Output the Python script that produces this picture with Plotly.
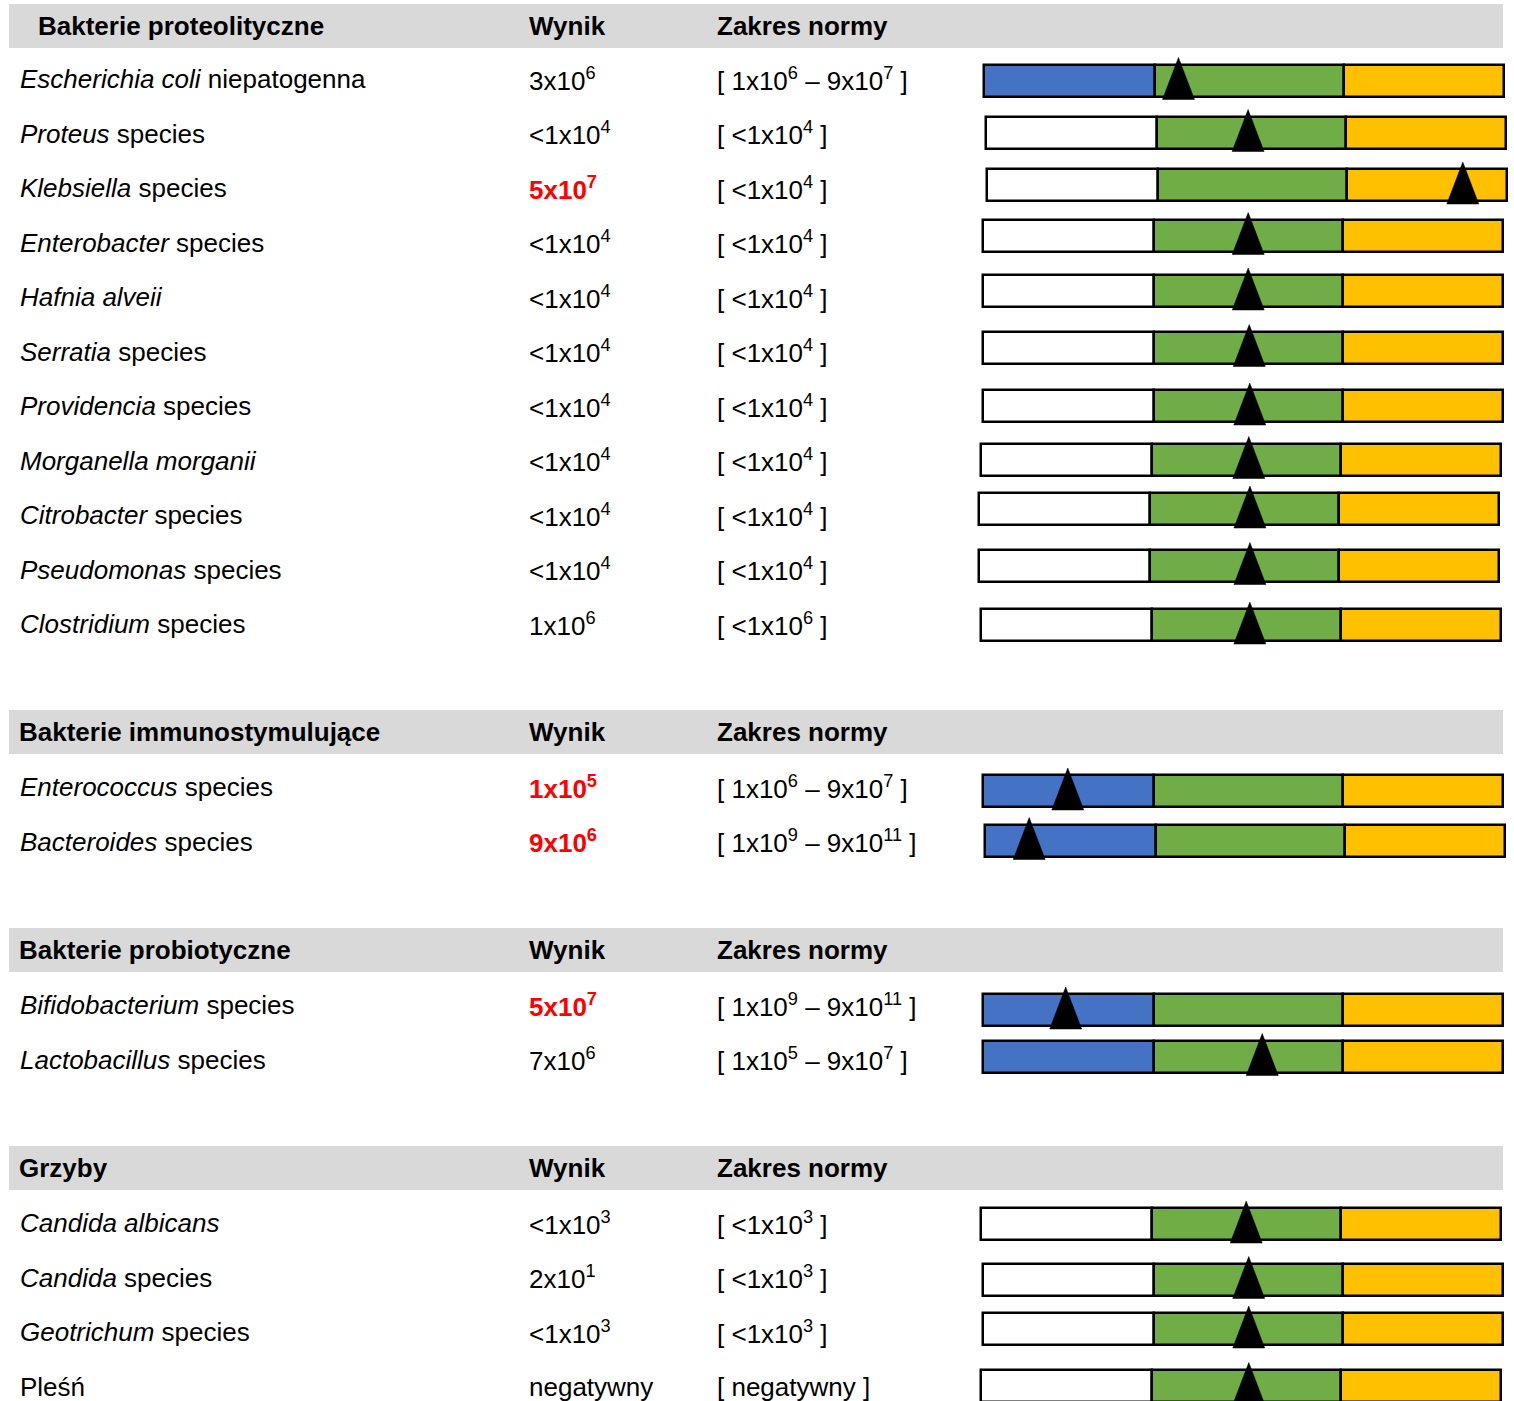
import plotly.graph_objects as go

# ---------------- data ----------------
section_titles = ["Bakterie proteolityczne", "Bakterie immunostymulujące",
                  "Bakterie probiotyczne", "Grzyby"]
section_sizes = [11, 2, 2, 4]
column_titles = ["Wynik", "Zakres normy"]

organisms = [
    "<i>Escherichia coli</i> niepatogenna",
    "<i>Proteus</i> species",
    "<i>Klebsiella</i> species",
    "<i>Enterobacter</i> species",
    "<i>Hafnia alveii</i>",
    "<i>Serratia</i> species",
    "<i>Providencia</i> species",
    "<i>Morganella morganii</i>",
    "<i>Citrobacter</i> species",
    "<i>Pseudomonas</i> species",
    "<i>Clostridium</i> species",
    "<i>Enterococcus</i> species",
    "<i>Bacteroides</i> species",
    "<i>Bifidobacterium</i> species",
    "<i>Lactobacillus</i> species",
    "<i>Candida albicans</i>",
    "<i>Candida</i> species",
    "<i>Geotrichum</i> species",
    "Pleśń",
]
results = [
    "3x10<sup>6</sup>", "<1x10<sup>4</sup>", "5x10<sup>7</sup>", "<1x10<sup>4</sup>",
    "<1x10<sup>4</sup>", "<1x10<sup>4</sup>", "<1x10<sup>4</sup>", "<1x10<sup>4</sup>",
    "<1x10<sup>4</sup>", "<1x10<sup>4</sup>", "1x10<sup>6</sup>",
    "1x10<sup>5</sup>", "9x10<sup>6</sup>",
    "5x10<sup>7</sup>", "7x10<sup>6</sup>",
    "<1x10<sup>3</sup>", "2x10<sup>1</sup>", "<1x10<sup>3</sup>", "negatywny",
]
result_alert = [False, False, True, False, False, False, False, False, False, False, False,
                True, True, True, False, False, False, False, False]
norm_ranges = [
    "[ 1x10<sup>6</sup> – 9x10<sup>7</sup> ]", "[ <1x10<sup>4</sup> ]", "[ <1x10<sup>4</sup> ]",
    "[ <1x10<sup>4</sup> ]", "[ <1x10<sup>4</sup> ]", "[ <1x10<sup>4</sup> ]",
    "[ <1x10<sup>4</sup> ]", "[ <1x10<sup>4</sup> ]", "[ <1x10<sup>4</sup> ]",
    "[ <1x10<sup>4</sup> ]", "[ <1x10<sup>6</sup> ]",
    "[ 1x10<sup>6</sup> – 9x10<sup>7</sup> ]", "[ 1x10<sup>9</sup> – 9x10<sup>11</sup> ]",
    "[ 1x10<sup>9</sup> – 9x10<sup>11</sup> ]", "[ 1x10<sup>5</sup> – 9x10<sup>7</sup> ]",
    "[ <1x10<sup>3</sup> ]", "[ <1x10<sup>3</sup> ]", "[ <1x10<sup>3</sup> ]", "[ negatywny ]",
]
# marker position along the scale (0 = left end, 1 = right end)
marker_pos = [0.374, 0.504, 0.915, 0.510, 0.510, 0.512, 0.513, 0.515, 0.521, 0.521, 0.517,
              0.163, 0.085, 0.159, 0.537, 0.510, 0.511, 0.511, 0.515]
# whether the lowest zone is shown (blue) or left blank (white)
low_zone_shown = [True, False, False, False, False, False, False, False, False, False, False,
                  True, True, True, True, False, False, False, False]
zone_fractions = [0.328, 0.365, 0.307]

# ---------------- layout constants ----------------
W, H = 1514, 1401
header_tops = [4, 710, 928, 1146]
header_h = 44
header_text_x = [36, 17, 17, 17]
first_row_offset = [75, 77, 77, 77]
row_step = 54.5
col_x = [18, 527, 715]
bar_left = [984, 986, 987, 983, 983, 983, 983, 981, 979, 979, 981,
            983, 985, 983, 983, 981, 983, 983, 981]
bar_width = 520
bar_center_dy = [1.5, -1, -3, -7, -6, -4, 0, -1, -6, -4, 1,
                 4, -1, 5, -3, 1, 2, -3, -1]
bar_h = 32
tri_w, tri_up, tri_down = 32, 7, 3
FONT = "Arial, Liberation Sans, Helvetica, sans-serif"
FS = 26
GRAY = "#d9d9d9"
BLUE, GREEN, ORANGE = "#4472c4", "#70ad47", "#ffc000"

fig = go.Figure()
annotations = []
shapes = []

# row centres
row_y = []
for s, n in enumerate(section_sizes):
    for k in range(n):
        row_y.append(header_tops[s] + first_row_offset[s] + k * row_step)

# headers
for s, title in enumerate(section_titles):
    t = header_tops[s]
    shapes.append(dict(type="rect", xref="x", yref="y", x0=9, x1=1503, y0=t, y1=t + header_h,
                       fillcolor=GRAY, line=dict(width=0), layer="below"))
    cy = t + header_h / 2
    for x, txt in zip([header_text_x[s]] + col_x[1:], [title] + column_titles):
        annotations.append(dict(x=x, y=cy, xref="x", yref="y", text=f"<b>{txt}</b>",
                                showarrow=False, xanchor="left", yanchor="middle",
                                font=dict(family=FONT, size=FS, color="black")))

# row texts
for i, y in enumerate(row_y):
    annotations.append(dict(x=col_x[0], y=y, xref="x", yref="y", text=organisms[i],
                            showarrow=False, xanchor="left", yanchor="middle",
                            font=dict(family=FONT, size=FS, color="black")))
    rtxt = f"<b>{results[i]}</b>" if result_alert[i] else results[i]
    annotations.append(dict(x=col_x[1], y=y, xref="x", yref="y", text=rtxt,
                            showarrow=False, xanchor="left", yanchor="middle",
                            font=dict(family=FONT, size=FS,
                                      color="#ff0000" if result_alert[i] else "black")))
    annotations.append(dict(x=col_x[2], y=y, xref="x", yref="y", text=norm_ranges[i],
                            showarrow=False, xanchor="left", yanchor="middle",
                            font=dict(family=FONT, size=FS, color="black")))

# bars (three zones)
bar_y = [row_y[i] + bar_center_dy[i] for i in range(len(row_y))]
zone_colors_low = [BLUE if shown else "white" for shown in low_zone_shown]
cum = 0.0
for z, frac in enumerate(zone_fractions):
    bases = [bar_left[i] + cum * bar_width for i in range(len(bar_y))]
    widths = [frac * bar_width] * len(bar_y)
    colors = zone_colors_low if z == 0 else ([GREEN] * len(bar_y) if z == 1 else [ORANGE] * len(bar_y))
    fig.add_trace(go.Bar(orientation="h", y=bar_y, x=widths, base=bases, width=bar_h,
                         marker=dict(color=colors, line=dict(color="black", width=2.5)),
                         showlegend=False, hoverinfo="skip"))
    cum += frac

# triangles
tx, ty = [], []
for i, y in enumerate(bar_y):
    cx = bar_left[i] + marker_pos[i] * bar_width
    top = y - bar_h / 2 - tri_up
    bot = y + bar_h / 2 + tri_down
    tx += [cx - tri_w / 2, cx, cx + tri_w / 2, cx - tri_w / 2, None]
    ty += [bot, top, bot, bot, None]
fig.add_trace(go.Scatter(x=tx, y=ty, mode="lines", fill="toself", fillcolor="black",
                         line=dict(color="black", width=0.5), showlegend=False,
                         hoverinfo="skip"))

fig.update_layout(
    width=W, height=H, margin=dict(l=0, r=0, t=0, b=0),
    paper_bgcolor="white", plot_bgcolor="white",
    xaxis=dict(range=[0, W], visible=False, fixedrange=True),
    yaxis=dict(range=[H, 0], visible=False, fixedrange=True),
    annotations=annotations, shapes=shapes, barmode="overlay", bargap=0,
)
fig.write_html("out.html", config={"displayModeBar": False},
               post_script="document.body.style.margin='0';document.body.style.overflow='hidden';")
